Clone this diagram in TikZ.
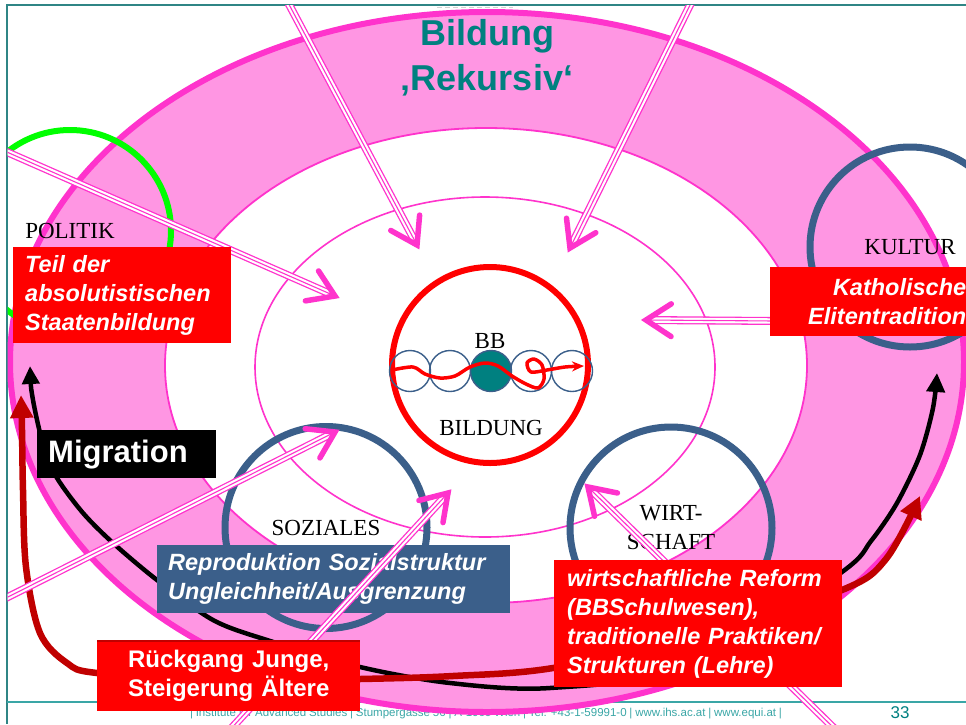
\documentclass[tikz,border=0pt]{standalone}
\usepackage{fontspec}
\setmainfont{Liberation Serif}
\setsansfont{Liberation Sans}
\usetikzlibrary{calc,arrows.meta}

\definecolor{ringfill}{HTML}{FF96E3}
\definecolor{ringline}{HTML}{FF33CC}
\definecolor{slate}{HTML}{3B5F8A}
\definecolor{titleteal}{HTML}{008080}
\definecolor{framec}{HTML}{2F8585}
\definecolor{footc}{HTML}{3AA6A6}
\definecolor{darkred}{HTML}{C00000}
\definecolor{brightgreen}{HTML}{00FF00}

\tikzset{
  ring/.style={fill=ringfill, draw=ringline, line width=6pt},
  midring/.style={fill=white, draw=ringline, line width=1.8pt},
  innerring/.style={draw=ringline, line width=1.6pt},
  areacircle/.style={circle, draw=slate, line width=7pt, inner sep=0pt,
    font=\fontsize{23}{29}\selectfont, align=center},
  greenring/.style={areacircle, draw=brightgreen, line width=6pt},
  bbring/.style={circle, draw=red, line width=6pt, inner sep=0pt},
  chainball/.style={circle, draw=slate, line width=1.4pt, inner sep=0pt, minimum size=41pt},
  arealabel/.style={font=\fontsize{23}{29}\selectfont, inner sep=0pt},
  boxtext/.style={text=white, font=\sffamily\bfseries\itshape\fontsize{23.5}{29}\selectfont,
    inner ysep=0pt, anchor=north west},
  redbox/.style={boxtext, fill=red},
  slatebox/.style={boxtext, fill=slate},
  titletext/.style={text=titleteal, font=\sffamily\bfseries\fontsize{36}{45}\selectfont,
    inner sep=0pt, anchor=base},
  triple/.style={draw=ringline, line width=1.1pt,
    preaction={draw=ringline, line width=8pt},
    preaction={draw=white, line width=5.4pt}},
  chevron/.style={draw=ringline, line width=5.5pt, line cap=round, line join=miter},
  migline/.style={draw=black, line width=4.5pt,
    {Triangle[length=18pt,width=17pt]}-{Triangle[length=19pt,width=18pt]}},
  ageline/.style={draw=darkred, line width=6.5pt,
    {Triangle[length=23pt,width=22pt]}-{Triangle[length=22pt,width=22pt]}},
  wiggle/.style={draw=red, line width=3.5pt, line join=round,
    -{Stealth[length=12pt,width=10pt]}},
  frameline/.style={line width=1.2pt},
  footer/.style={text=footc, font=\sffamily\fontsize{11.5}{13}\selectfont, inner sep=0pt},
}

\begin{document}
\begin{tikzpicture}[x=1pt,y=-1pt]
\useasboundingbox (0,0) rectangle (966,724);

% page frame and footer
\coordinate (fTL) at (7,5);
\coordinate (fTR) at (966,5);
\coordinate (fBL) at (7,724);
\coordinate (fFL) at (7,702);
\coordinate (fFR) at (966,702);
\draw[frameline, draw=framec] (fTR) -- (fTL) -- (fBL);
\draw[frameline, draw=footc] (fFL) -- (fFR);
\node[footer] (foot) at (486,714) {\makebox[592pt][s]{| Institute for Advanced Studies | Stumpergasse 56 | A-1060 Wien | Tel: +43-1-59991-0 | www.ihs.ac.at | www.equi.at |}};
\node[footer, text=titleteal, font=\sffamily\fontsize{17}{19}\selectfont] (pagenum) at (900,713) {33};

\begin{scope}
\clip (7.6,5.6) rectangle (966,724);

% rings
\path[ring] (487,362) ellipse [x radius=477pt, y radius=350pt];
\path[midring] (486,365.5) ellipse [x radius=321pt, y radius=237.5pt];
\path[innerring] (485,367) ellipse [x radius=230pt, y radius=170pt];
\draw[dash pattern=on 5pt off 3pt, draw=gray!35, line width=1pt] (437,7) -- (513,7);

% areas
\node[greenring, minimum size=202pt] (politik) at (70,231) {POLITIK};
\node[areacircle, minimum size=200pt] (kultur) at (910,247) {KULTUR};
\node[areacircle, minimum size=202pt] (soziales) at (326,527.5) {SOZIALES};
\node[areacircle, minimum size=202pt] (wirtschaft) at (671,528) {WIRT-\\SCHAFT};

% centre: BB
\node[bbring, minimum size=196pt] (bb) at (490,365) {};
\node[chainball] (c1) at (410,371) {};
\node[chainball] (c2) at (450,371) {};
\node[chainball, fill=titleteal] (c3) at (491,371) {};
\node[chainball] (c4) at (531,371) {};
\node[chainball] (c5) at (572,371) {};
\node[arealabel] (bblabel) at (490,341) {BB};
\node[arealabel] (bildung) at (491,428) {BILDUNG};
\coordinate (wS) at (392,370);
\coordinate (wE) at (584,366);
\draw[wiggle] plot[smooth, tension=0.5] coordinates {(wS) (413,367) (425,374) (440,378) (455,376) (470,367) (485,363) (498,366) (512,376) (526,384) (538,388) (544,379) (542,365) (534,359) (527,363) (531,372) (547,370) (565,367) (wE)};

% migration and ageing curves
\coordinate (migL) at (30,366);
\coordinate (migR) at (937,373);
\draw[migline] plot[smooth, tension=0.5] coordinates {(migL) (33,400) (44,448) (57,478) (83,513) (113,543) (157,580) (213,620) (267,640) (360,667) (450,683) (550,688) (700,666) (842,572) (871,541) (897,503) (920,455) (933,408) (migR)};
\coordinate (ageL) at (21,395);
\coordinate (ageR) at (920,496);
\draw[ageline] plot[smooth, tension=0.55] coordinates {(ageL) (22,430) (23,490) (26,567) (40,633) (67,663) (97,673) (220,681) (360,679) (453,676) (553,668) (700,636) (842,590) (886,559) (ageR)};

% social structure box
\node[slatebox, minimum height=68pt, text width=331pt, inner xsep=11pt, align=left] (sozbox) at (157,545)
  {Reproduktion Sozialstruktur\\Ungleichheit/Ausgrenzung};

% influences pointing inwards
\coordinate (a1s) at (284,-5);   \coordinate (a1t) at (417,245);
\coordinate (a2s) at (695,-5);   \coordinate (a2t) at (570,248);
\coordinate (a3s) at (0,149);    \coordinate (a3t) at (335,296);
\coordinate (a4s) at (775,321);  \coordinate (a4t) at (646,320);
\coordinate (a5s) at (0,601);    \coordinate (a5t) at (335,432);
\coordinate (a6s) at (227,733);  \coordinate (a6t) at (448,493);
\coordinate (a7s) at (840,734);  \coordinate (a7t) at (588,487);
\foreach \sa/\ta in {a1s/a1t,a2s/a2t,a3s/a3t,a4s/a4t,a5s/a5t,a6s/a6t,a7s/a7t} {
  \draw[triple] (\sa) -- ($(\ta)!4pt!(\sa)$);
  \draw[chevron] ($(\ta)!30pt!33:(\sa)$) -- (\ta) -- ($(\ta)!30pt!-33:(\sa)$);
}

% text boxes
\node[redbox, minimum height=96pt, text width=194pt, inner xsep=12pt, align=left] (polbox) at (13,247)
  {Teil der\\absolutistischen\\Staatenbildung};
\node[redbox, minimum height=69pt, text width=182pt, inner xsep=14pt, align=right] (kulbox) at (770,267)
  {Katholische\\Elitentradition};
\node[redbox, minimum height=127pt, text width=262pt, inner xsep=13pt, align=left] (wirbox) at (554,560)
  {wirtschaftliche Reform\\(BBSchulwesen),\\traditionelle Praktiken/\\Strukturen (Lehre)};
\node[redbox, font=\sffamily\bfseries\fontsize{24}{29}\selectfont, minimum height=70pt, text width=263pt,
  inner xsep=0pt, align=center] (agebox) at (97,641) {Rückgang Junge,\\Steigerung Ältere};
\draw[darkred, line width=1.5pt] (agebox.north west) -- (agebox.north east);
\node[boxtext, fill=black, font=\sffamily\bfseries\fontsize{31}{34}\selectfont, minimum height=48pt,
  text width=157pt, inner xsep=11pt, align=left] (migbox) at (37,430) {Migration};
\end{scope}

% title
\node[titletext] (title1) at (487,45) {Bildung};
\node[titletext] (title2) at (487,90) {‚Rekursiv‘};
\end{tikzpicture}
\end{document}
